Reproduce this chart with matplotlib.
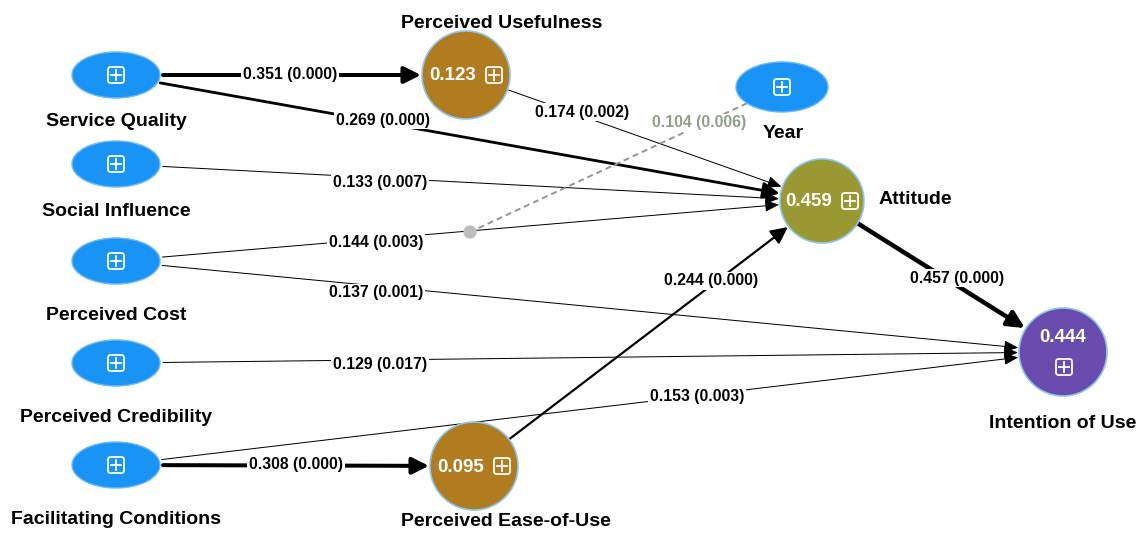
import numpy as np
import matplotlib
matplotlib.use('Agg')
from matplotlib import pyplot as plt
from matplotlib.patches import Ellipse, Circle, FancyArrowPatch, FancyBboxPatch

plt.rcParams['font.family'] = ['Liberation Sans', 'DejaVu Sans']
plt.rcParams['font.weight'] = 'bold'

# model results
exogenous = ['Service Quality', 'Social Influence', 'Perceived Cost',
             'Perceived Credibility', 'Facilitating Conditions', 'Year']
endogenous = ['Perceived Usefulness', 'Attitude', 'Perceived Ease-of-Use', 'Intention of Use']
r_squared = [0.123, 0.459, 0.095, 0.444]

path_from = ['Service Quality', 'Service Quality', 'Perceived Usefulness', 'Social Influence',
             'Perceived Cost', 'Perceived Cost', 'Perceived Credibility', 'Facilitating Conditions',
             'Facilitating Conditions', 'Perceived Ease-of-Use', 'Attitude']
path_to = ['Perceived Usefulness', 'Attitude', 'Attitude', 'Attitude',
           'Attitude', 'Intention of Use', 'Intention of Use', 'Intention of Use',
           'Perceived Ease-of-Use', 'Attitude', 'Intention of Use']
path_coef = [0.351, 0.269, 0.174, 0.133, 0.144, 0.137, 0.129, 0.153, 0.308, 0.244, 0.457]
path_p = [0.000, 0.000, 0.002, 0.007, 0.003, 0.001, 0.017, 0.003, 0.000, 0.000, 0.000]

# moderation: Year on Perceived Cost -> Attitude
mod_coef = 0.104
mod_p = 0.006

# ---- layout (pixel coordinates) ----
pos = {
    'Service Quality': (116, 75), 'Social Influence': (116, 164), 'Perceived Cost': (116, 261),
    'Perceived Credibility': (116, 363), 'Facilitating Conditions': (116, 465), 'Year': (782, 87),
    'Perceived Usefulness': (466, 75), 'Attitude': (822, 201),
    'Perceived Ease-of-Use': (474, 466), 'Intention of Use': (1063, 352),
}
name_pos = {
    'Service Quality': (116, 122), 'Social Influence': (116, 211), 'Perceived Cost': (116, 316),
    'Perceived Credibility': (116, 418), 'Facilitating Conditions': (116, 519), 'Year': (783, 134),
    'Perceived Usefulness': (502, 24), 'Attitude': (879, 199),
    'Perceived Ease-of-Use': (506, 522), 'Intention of Use': (1063, 424),
}
circle_r = {'Perceived Usefulness': 44, 'Attitude': 42, 'Perceived Ease-of-Use': 44, 'Intention of Use': 44}
circle_col = {'Perceived Usefulness': '#b17c1f', 'Attitude': '#999833',
              'Perceived Ease-of-Use': '#b17c1f', 'Intention of Use': '#6a4bae'}
ell_w, ell_h = 88, 46
blue = '#1a93f7'

label_pos = [(290, 74), (383, 120), (582, 112), (380, 183), (376, 242), (376, 293),
             (380, 364), (697, 397), (296, 465), (711, 281), (957, 278)]
line_px = [4, 2.8, 1, 1, 1, 1, 1, 1, 4, 2.2, 4.5]
dot_pos = (470, 232)


def boundary(name, d):
    # distance from centre to node edge along unit direction d
    if name in circle_r:
        return circle_r[name] + 1
    w, h = (ell_w + 6) / 2, ell_h / 2
    if name == 'Year':
        w, h = 46, 25
    return 1.0 / np.sqrt((d[0] / w) ** 2 + (d[1] / h) ** 2)


fig = plt.figure(figsize=(11.43, 5.34), dpi=100)
ax = fig.add_axes([0, 0, 1, 1])
ax.set_xlim(0, 1143)
ax.set_ylim(534, 0)
ax.axis('off')

px = 0.72  # points per pixel
lab_fs = 11.3
name_fs = 14

# paths
for src, dst, c, p, lp, lw in zip(path_from, path_to, path_coef, path_p, label_pos, line_px):
    p0, p1 = np.array(pos[src], float), np.array(pos[dst], float)
    d = (p1 - p0) / np.linalg.norm(p1 - p0)
    a = p0 + d * boundary(src, d)
    b = p1 - d * boundary(dst, -d)
    hl = 14 if lw > 2 else 12
    hw = 7 if lw > 2 else 5
    arr = FancyArrowPatch(tuple(a), tuple(b), arrowstyle='-|>,head_length=%.1f,head_width=%.1f' % (hl * px, hw * px),
                          mutation_scale=1, lw=lw * px, color='black', shrinkA=0, shrinkB=0, zorder=2)
    ax.add_patch(arr)
    ax.text(lp[0], lp[1], '%.3f (%.3f)' % (c, p), ha='center', va='center', fontsize=lab_fs,
            zorder=4, bbox=dict(boxstyle='square,pad=0.12', fc='white', ec='none'))

# moderating effect
p0 = np.array(pos['Year'], float)
d = (np.array(dot_pos) - p0) / np.linalg.norm(np.array(dot_pos) - p0)
a = p0 + d * boundary('Year', d)
ax.plot([a[0], dot_pos[0]], [a[1], dot_pos[1]], ls=(0, (3, 2)), lw=2 * px, color='#8f9a8a', zorder=2)
ax.add_patch(Circle(dot_pos, 6, color='#bdbdbd', zorder=3))
ax.text(699, 123, '%.3f (%.3f)' % (mod_coef, mod_p), ha='center', va='center', fontsize=lab_fs,
        color='#8d9e87', zorder=4, bbox=dict(boxstyle='square,pad=0.12', fc='white', ec='none'))


def plus_box(x, y, s=16):
    ax.add_patch(FancyBboxPatch((x - s / 2, y - s / 2), s, s, boxstyle='round,pad=0,rounding_size=2.5',
                                fc='none', ec='white', lw=1.3, zorder=6))
    ax.plot([x - s * 0.3, x + s * 0.3], [y, y], color='white', lw=1.3, zorder=6)
    ax.plot([x, x], [y - s * 0.3, y + s * 0.3], color='white', lw=1.3, zorder=6)


# exogenous nodes
for n in exogenous:
    w, h = (ell_w, ell_h) if n != 'Year' else (92, 50)
    ax.add_patch(Ellipse(pos[n], w, h, fc=blue, ec='#6cb8f7', lw=1, zorder=5))
    plus_box(*pos[n])
    ax.text(*name_pos[n], n, ha='center', va='center', fontsize=name_fs, zorder=6)

# endogenous nodes
for n, r2 in zip(endogenous, r_squared):
    x, y = pos[n]
    ax.add_patch(Circle((x, y), circle_r[n], fc=circle_col[n], ec='#8cc6ee', lw=1.2, zorder=5))
    if n == 'Intention of Use':
        ax.text(x, y - 14, '%.3f' % r2, ha='center', va='center', fontsize=13.5, color='white', zorder=6)
        plus_box(x + 1, y + 15)
    else:
        ax.text(x - 13, y + 1, '%.3f' % r2, ha='center', va='center', fontsize=13.5, color='white', zorder=6)
        plus_box(x + 28, y)
    ha = 'left' if n == 'Attitude' else 'center'
    ax.text(*name_pos[n], n, ha=ha, va='center', fontsize=name_fs, zorder=6)

fig.savefig('out.png', dpi=100)
